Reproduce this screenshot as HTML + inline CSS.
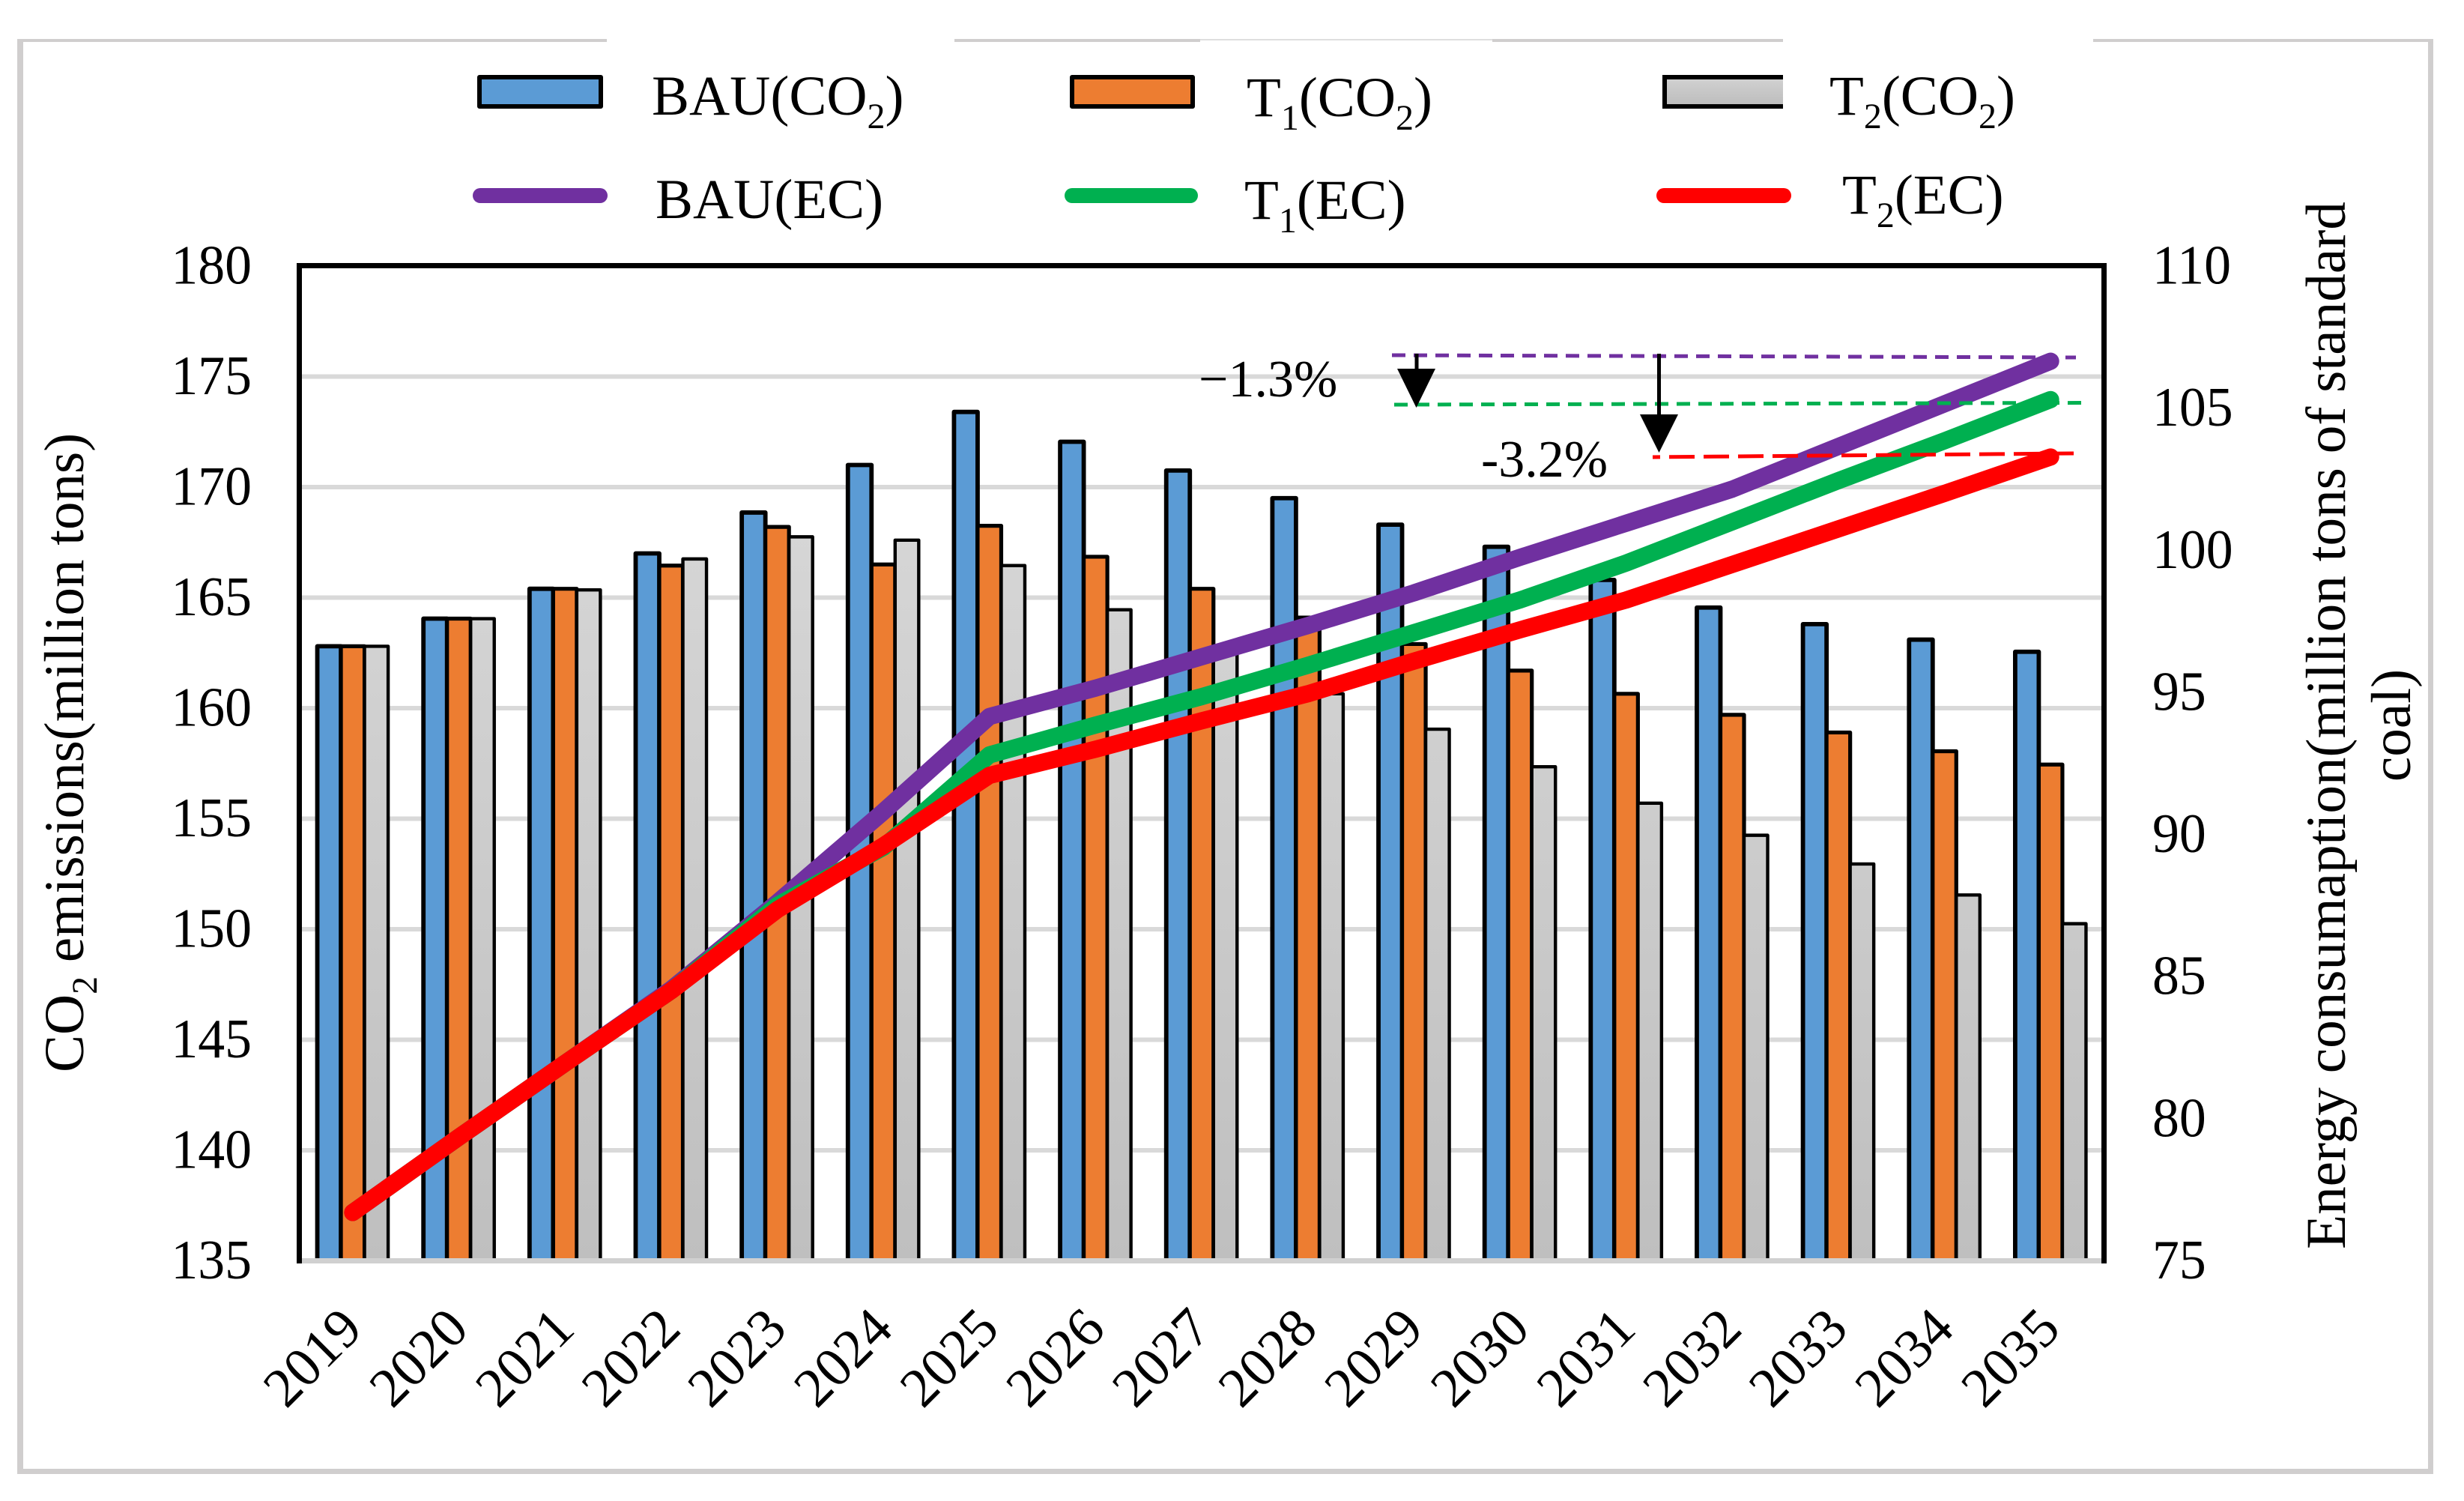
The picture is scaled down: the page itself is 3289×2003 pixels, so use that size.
<!DOCTYPE html>
<html lang="en">
<head>
<meta charset="utf-8">
<title>CO2 emissions and energy consumption</title>
<style>
html,body{margin:0;padding:0;background:#fff;}
svg{display:block;}
text{font-family:"Liberation Serif",serif;fill:#000;}
</style>
</head>
<body>
<svg id="chart" xmlns="http://www.w3.org/2000/svg" width="3289" height="2003" viewBox="0 0 3289 2003">
  <defs>
    <linearGradient id="grayFill" gradientUnits="userSpaceOnUse" x1="0" y1="700" x2="0" y2="1680">
      <stop offset="0" stop-color="#d6d6d6"/><stop offset="1" stop-color="#bfbfbf"/>
    </linearGradient>
    <linearGradient id="grayLegendFill" x1="0" y1="0" x2="0" y2="1">
      <stop offset="0" stop-color="#d2d2d2"/><stop offset="1" stop-color="#bcbcbc"/>
    </linearGradient>
  </defs>
  <rect x="0" y="0" width="3289" height="2003" fill="#fff"/>
  <g fill="#d0cece">
    <rect x="23" y="52" width="8" height="1915"/>
    <rect x="23" y="52" width="787" height="4"/>
    <rect x="1274" y="52" width="328" height="4"/>
    <rect x="1602" y="52" width="390" height="2" fill="#dedede"/>
    <rect x="1992" y="52" width="388" height="4"/>
    <rect x="2794" y="52" width="454" height="4"/>
    <rect x="3241" y="52" width="7" height="1915"/>
    <rect x="23" y="1960" width="3225" height="7"/>
  </g>
  <g id="grid"></g>
  <g id="bars"></g>
  <rect x="400" y="1679" width="2408" height="7" fill="#d0d0d0"/>
  <rect x="396" y="351" width="7" height="1335" fill="#000"/>
  <rect x="2805" y="351" width="7" height="1335" fill="#000"/>
  <rect x="396" y="351" width="2416" height="7" fill="#000"/>
  <g id="lines"></g>
  <g id="leftTickLabels" font-size="74" text-anchor="end"></g>
  <g id="rightTickLabels" font-size="74"></g>
  <g id="xTickLabels" font-size="74" text-anchor="end"></g>

  <text font-size="75" transform="translate(111,1431) rotate(-90)">CO<tspan font-size="48" dy="18">2</tspan><tspan dy="-18"> emissions(million tons)</tspan></text>
  <text font-size="75.2" text-anchor="middle" transform="translate(3130,968) rotate(-90)">Energy consumaption(million tons of standard</text>
  <text font-size="75.2" text-anchor="middle" transform="translate(3217,968) rotate(-90)">coal)</text>

  <g>
    <g>
      <rect x="640" y="103" width="162" height="39" fill="#5b9bd5" stroke="#000" stroke-width="6" stroke-linejoin="round"/>
      <text x="870" y="153" font-size="75">BAU(CO<tspan font-size="48" dy="18">2</tspan><tspan dy="-18">)</tspan></text>
    </g>
    <g>
      <rect x="1431" y="103" width="161" height="39" fill="#ed7d31" stroke="#000" stroke-width="6" stroke-linejoin="round"/>
      <text x="1664" y="155" font-size="75">T<tspan font-size="48" dy="18">1</tspan><tspan dy="-18">(CO</tspan><tspan font-size="48" dy="18">2</tspan><tspan dy="-18">)</tspan></text>
    </g>
    <g>
      <rect x="2222" y="103" width="158" height="39" fill="url(#grayLegendFill)"/>
      <path d="M2380 103H2222V142H2380" fill="none" stroke="#000" stroke-width="6"/>
      <text x="2442" y="153" font-size="75">T<tspan font-size="48" dy="18">2</tspan><tspan dy="-18">(CO</tspan><tspan font-size="48" dy="18">2</tspan><tspan dy="-18">)</tspan></text>
    </g>
    <g>
      <line x1="641" y1="261" x2="801" y2="261" stroke="#7030a0" stroke-width="20" stroke-linecap="round"/>
      <text x="875" y="291" font-size="75">BAU(EC)</text>
    </g>
    <g>
      <line x1="1431" y1="261" x2="1589" y2="261" stroke="#00b050" stroke-width="20" stroke-linecap="round"/>
      <text x="1661" y="292" font-size="75">T<tspan font-size="48" dy="18">1</tspan><tspan dy="-18">(EC)</tspan></text>
    </g>
    <g>
      <line x1="2221" y1="261" x2="2381" y2="261" stroke="#ff0000" stroke-width="20" stroke-linecap="round"/>
      <text x="2459" y="285" font-size="75">T<tspan font-size="48" dy="18">2</tspan><tspan dy="-18">(EC)</tspan></text>
    </g>
  </g>

  <g>
    <line x1="1858" y1="474" x2="2771" y2="477" stroke="#7030a0" stroke-width="5" stroke-dasharray="18 11"/>
    <line x1="1861" y1="540" x2="2784" y2="537.5" stroke="#00b050" stroke-width="5" stroke-dasharray="18 11"/>
    <line x1="2206" y1="610" x2="2768" y2="605" stroke="#ff0000" stroke-width="5" stroke-dasharray="34 12" stroke-dashoffset="24"/>
    <line x1="1891" y1="472" x2="1891" y2="495" stroke="#000" stroke-width="5"/>
    <polygon points="1865,492 1916,492 1890.5,544" fill="#000"/>
    <line x1="2214.5" y1="472" x2="2214.5" y2="556" stroke="#000" stroke-width="5"/>
    <polygon points="2189,553 2240,553 2214.5,604" fill="#000"/>
    <text x="1600" y="529" font-size="70">−1.3%</text>
    <text x="1977" y="636" font-size="70">-3.2%</text>
  </g>
</svg>
<script>
const categories = ["2019","2020","2021","2022","2023","2024","2025","2026","2027","2028","2029","2030","2031","2032","2033","2034","2035"];
const bauCO2 = [162.8,164.05,165.4,167.0,168.85,171.0,173.4,172.05,170.75,169.5,168.3,167.3,165.8,164.55,163.8,163.1,162.55];
const t1CO2 = [162.8,164.05,165.4,166.45,168.2,166.5,168.25,166.85,165.4,164.1,162.9,161.7,160.65,159.7,158.9,158.05,157.45];
const t2CO2 = [162.8,164.05,165.35,166.75,167.75,167.6,166.45,164.45,162.5,160.65,159.05,157.35,155.7,154.25,152.95,151.55,150.25];
const bauEC = [76.7,79.35,81.95,84.55,87.6,90.8,94.15,95.15,96.25,97.35,98.5,99.75,100.95,102.15,103.65,105.15,106.65];
const t1EC = [76.7,79.35,81.95,84.5,87.5,89.55,92.8,93.85,94.85,95.95,97.1,98.25,99.55,101.0,102.45,103.85,105.3];
const t2EC = [76.7,79.35,81.95,84.5,87.35,89.6,92.08,93.0,94.0,94.95,96.1,97.2,98.25,99.5,100.75,102.0,103.28];
const leftTicks = [135,140,145,150,155,160,165,170,175,180];
const rightTicks = [75,80,85,90,95,100,105,110];

const NS = "http://www.w3.org/2000/svg";
const plotLeft = 400, plotRight = 2808, plotTop = 355, plotBottom = 1682.5;
const leftMin = leftTicks[0], leftMax = leftTicks[leftTicks.length - 1];
const rightMin = rightTicks[0], rightMax = rightTicks[rightTicks.length - 1];
const catWidth = (plotRight - plotLeft) / categories.length;
const barWidth = catWidth * 0.2225;

function xCat(i) { return plotLeft + catWidth * (i + 0.5); }
function yLeft(v) { return plotBottom - (v - leftMin) / (leftMax - leftMin) * (plotBottom - plotTop); }
function yRight(v) { return plotBottom - (v - rightMin) / (rightMax - rightMin) * (plotBottom - plotTop); }
function make(tag, attrs, parent) {
  const node = document.createElementNS(NS, tag);
  for (const k in attrs) node.setAttribute(k, attrs[k]);
  parent.appendChild(node);
  return node;
}

const gridGroup = document.getElementById("grid");
leftTicks.forEach(function (t) {
  if (t === leftMin || t === leftMax) return;
  const el = make("line", { x1: plotLeft + 3, x2: plotRight - 3, y1: yLeft(t), y2: yLeft(t), stroke: "#d9d9d9", "stroke-width": 6 }, gridGroup);
  
  
});

const barGroup = document.getElementById("bars");
function drawBars(values, offset, fill, strokeWidth, key) {
  values.forEach(function (v, i) {
    const top = yLeft(v);
    const el = make("rect", {
      x: xCat(i) + offset * barWidth - barWidth / 2,
      y: top,
      width: barWidth,
      height: yLeft(leftMin) - top,
      fill: fill,
      stroke: "#000",
      "stroke-width": strokeWidth,
      "stroke-linejoin": "round"
    }, barGroup);
    
    
  });
}
drawBars(bauCO2, -1, "#5b9bd5", 5.8, "bau-co2");
drawBars(t1CO2, 0, "#ed7d31", 5.2, "t1-co2");
drawBars(t2CO2, 1, "url(#grayFill)", 4.4, "t2-co2");

const lineGroup = document.getElementById("lines");
function drawLine(values, color, key) {
  const pts = values.map(function (v, i) { return xCat(i) + "," + yRight(v); }).join(" ");
  const el = make("polyline", { points: pts, fill: "none", stroke: color, "stroke-width": 23, "stroke-linecap": "round", "stroke-linejoin": "round" }, lineGroup);
  
  
}
drawLine(bauEC, "#7030a0", "bau-ec");
drawLine(t1EC, "#00b050", "t1-ec");
drawLine(t2EC, "#ff0000", "t2-ec");

const leftLabels = document.getElementById("leftTickLabels");
leftTicks.forEach(function (t) {
  const el = make("text", { transform: "translate(336," + (yLeft(t) + 23.5) + ") scale(0.97,1)" }, leftLabels);
  el.textContent = String(t);
  
  
});

const rightLabels = document.getElementById("rightTickLabels");
rightTicks.forEach(function (t) {
  const el = make("text", { transform: "translate(2873," + (yRight(t) + 23.5) + ") scale(0.97,1)" }, rightLabels);
  el.textContent = String(t);
  
  
});

const xLabels = document.getElementById("xTickLabels");
categories.forEach(function (c, i) {
  const px = xCat(i) + 15.8;
  const el = make("text", { transform: "translate(" + px + ",1776.5) rotate(-45)" }, xLabels);
  el.textContent = c;
  
  
});
</script>
</body>
</html>
